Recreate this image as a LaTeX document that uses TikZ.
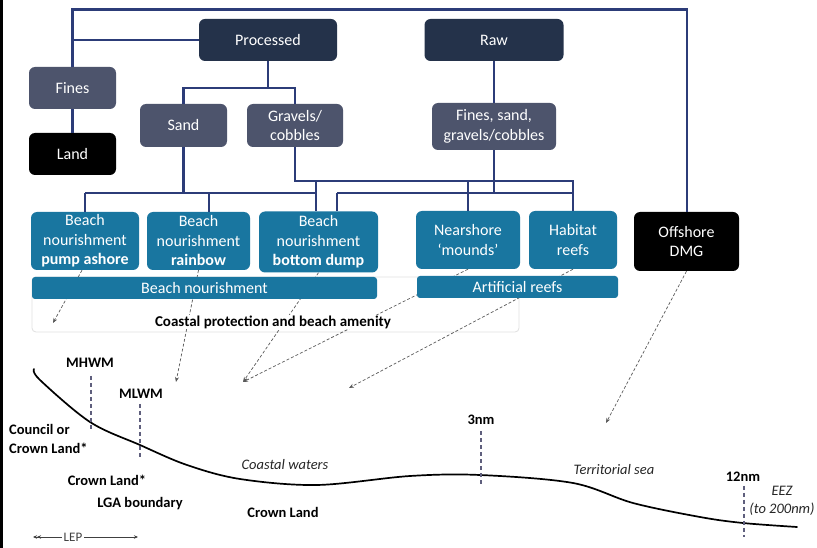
\documentclass[tikz,border=0pt]{standalone}
\usepackage{fontspec}
\setmainfont{Carlito}
\usetikzlibrary{arrows.meta,backgrounds}
\definecolor{navy}{RGB}{36,50,74}
\definecolor{slate}{RGB}{77,84,108}
\definecolor{tealbox}{RGB}{25,118,160}
\definecolor{connc}{RGB}{44,60,120}
\definecolor{tidec}{RGB}{95,95,125}
\definecolor{dashc}{RGB}{90,90,90}
\tikzset{
  x=1pt, y=-1pt,
  box/.style={rounded corners=6pt, text=white, inner sep=0pt, align=center,
    font=\fontsize{16}{19.5}\selectfont},
  navybox/.style={box, fill=navy},
  slatebox/.style={box, fill=slate},
  tealb/.style={box, fill=tealbox},
  blackbox/.style={box, fill=black},
  barbox/.style={rounded corners=3pt, fill=tealbox, text=white, inner sep=0pt,
    font=\fontsize{16}{18}\selectfont},
  conn/.style={draw=connc, line width=2.1pt},
  dasharrow/.style={draw=dashc, densely dashed, line width=0.7pt,
    -{Stealth[length=5pt,width=4pt]}},
  tidemark/.style={draw=tidec, dash pattern=on 4pt off 3pt, line width=1.4pt},
  lbl/.style={font=\fontsize{14.5}{19}\selectfont\bfseries, inner sep=0pt},
  ilbl/.style={font=\fontsize{14.5}{18}\selectfont\itshape, inner sep=0pt, text=black!85}
}
\begin{document}
\begin{tikzpicture}
\useasboundingbox (0,0) rectangle (817,548);
% top row
\node[navybox, minimum width=138pt, minimum height=42pt] (proc) at (268,40) {Processed};
\node[navybox, minimum width=139pt, minimum height=42pt] (raw) at (494,40) {Raw};
% second rows
\node[slatebox, minimum width=87pt, minimum height=42pt] (fines) at (72.5,88) {Fines};
\node[blackbox, minimum width=87pt, minimum height=42pt] (land) at (72.5,154) {Land};
\node[slatebox, minimum width=87pt, minimum height=43pt] (sand) at (183.5,125.5) {Sand};
\node[slatebox, minimum width=96pt, minimum height=43pt] (grav) at (295,125.5) {Gravels/\\cobbles};
\node[slatebox, minimum width=124pt, minimum height=47pt] (mixed) at (494,126.5) {Fines, sand,\\gravels/cobbles};
% teal row
\node[tealb, minimum width=108pt, minimum height=58pt] (bn1) at (85,241) {Beach\\nourishment\\\textbf{pump ashore}};
\node[tealb, minimum width=103pt, minimum height=58pt] (bn2) at (198.5,241) {Beach\\nourishment\\\textbf{rainbow}};
\node[tealb, minimum width=119pt, minimum height=61pt] (bn3) at (318.5,242) {Beach\\nourishment\\\textbf{bottom dump}};
\node[tealb, minimum width=104pt, minimum height=58pt] (near) at (468,240) {Nearshore\\`mounds'};
\node[tealb, minimum width=88pt, minimum height=58pt] (hab) at (573,240) {Habitat\\reefs};
\node[blackbox, minimum width=105pt, minimum height=59pt] (off) at (686.5,241.5) {Offshore\\DMG};
% bars
\node[barbox, minimum width=345pt, minimum height=22pt] (bnbar) at (204.5,288) {Beach nourishment};
\node[barbox, minimum width=201pt, minimum height=22pt] (arbar) at (517.5,287) {Artificial reefs};
% coastal text
\node[font=\fontsize{15}{17}\selectfont\bfseries, fill=white, inner sep=1pt] (coast) at (273,322) {Coastal protection and beach amenity};

% junction coordinates
\coordinate (top1) at (72.5,9.5);
\coordinate (top2) at (687,9.5);
\coordinate (pj) at (268,88);
\coordinate (a1) at (85,193);
\coordinate (a2) at (209,193);
\coordinate (a3) at (316,193);
\coordinate (g0) at (295,181);
\coordinate (g1) at (316,181);
\coordinate (g2) at (468,181);
\coordinate (g3) at (573,181);
\coordinate (r1) at (337,193);
\coordinate (r3) at (573,193);

% connectors
\draw[conn] (fines.north) -- (top1) -- (top2) -- (off.north -| top2);
\draw[conn] (proc.west) -- (proc.west -| fines.north);
\draw[conn] (fines.south) -- (land.north);
\draw[conn] (proc.south) -- (pj);
\draw[conn] (sand.north) -- (sand.north |- pj) -- (grav.north |- pj) -- (grav.north);
\draw[conn] (raw.south) -- (mixed.north);
\draw[conn] (sand.south) -- (sand.south |- a1);
\draw[conn] (a1) -- (a3);
\draw[conn] (a1) -- (bn1.north -| a1);
\draw[conn] (a2) -- (bn2.north -| a2);
\draw[conn] (grav.south) -- (grav.south |- g0) -- (g3) -- (hab.north -| g3);
\draw[conn] (g1) -- (bn3.north -| g1);
\draw[conn] (g2) -- (near.north -| g2);
\draw[conn] (mixed.south) -- (mixed.south |- r1);
\draw[conn] (r1) -- (r3);
\draw[conn] (r1) -- (bn3.north -| r1);

% arrow ends
\coordinate (e1) at (53,323);
\coordinate (e2) at (176,382);
\coordinate (e3) at (243,382);
\coordinate (e4) at (349,388);
\coordinate (e5) at (606,423);

\begin{pgfonlayer}{background}
\fill[white] (0,0) rectangle (817,548);
\draw[black!12, rounded corners=4pt, line width=0.8pt] (32,277) rectangle (519,332);
\draw[dasharrow] ([xshift=-3pt]bn1.south) -- (e1);
\draw[dasharrow] (bn2.south) -- (e2);
\draw[dasharrow] (bn3.south) -- (e3);
\draw[dasharrow] (near.south) -- (e3);
\draw[dasharrow] (hab.south) -- (e4);
\draw[dasharrow] (off.south) -- (e5);
\end{pgfonlayer}

% left frame line
\draw[line width=3pt] (1.5,0) -- (1.5,548);

% coastline profile
\draw[line width=1.7pt, line cap=round] plot[smooth, tension=0.55] coordinates {(34,369) (40,380) (90,422) (140,445) (187,465) (240,479) (317,485) (410,476) (480,475) (573,483) (633,503) (700,517) (743,523) (797,527)};

% tide / limit marks
\node[lbl] (mhwm) at (90,363) {MHWM};
\node[lbl] (mlwm) at (141,394) {MLWM};
\node[lbl] (nm3) at (481,420) {3nm};
\node[lbl] (nm12) at (743,477) {12nm};
\draw[tidemark] (mhwm.south -| 91,0) ++(0,8) -- ++(0,55);
\draw[tidemark] (mlwm.south -| 140,0) ++(0,5) -- ++(0,53);
\draw[tidemark] (nm3.south) ++(0,6) -- ++(0,53);
\draw[tidemark] (nm12.south -| 744,0) ++(0,4) -- ++(0,51);

% region labels
\node[lbl, align=left, anchor=west] (council) at (9,438.5) {Council or\\Crown Land*};
\node[lbl] (crown1) at (107,480) {Crown Land*};
\node[lbl] (lga) at (140,504) {LGA boundary};
\node[lbl] (crown2) at (283,512) {Crown Land};
\node[ilbl] (cw) at (285,465) {Coastal waters};
\node[ilbl] (ts) at (614,470) {Territorial sea};
\node[ilbl, align=center] (eez) at (782,501) {EEZ\\(to 200nm)};

% LEP
\node[font=\fontsize{13}{15}\selectfont, text=black!75, inner sep=2pt] (lep) at (73,537) {LEP};
\draw[black!75, line width=0.8pt, -{Stealth[length=4pt,width=3.5pt]}] (lep.east) -- (138,537);
\draw[black!75, line width=0.8pt, -{Stealth[length=4pt,width=3.5pt]Stealth[length=4pt,width=3.5pt]}] (lep.west) -- (33,537);
\end{tikzpicture}
\end{document}
